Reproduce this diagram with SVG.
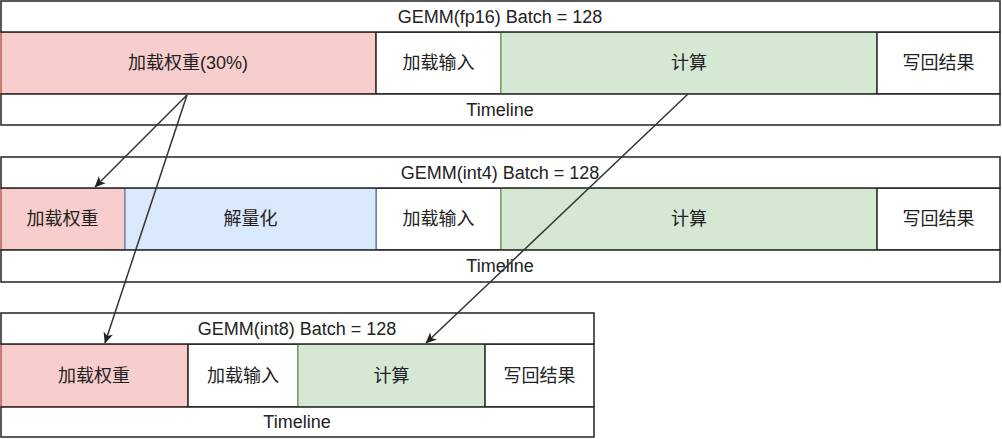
<svg xmlns="http://www.w3.org/2000/svg" width="1002" height="439" viewBox="0 0 1002 439">
<defs>
<style>
text{font-family:"Liberation Sans","Noto Sans CJK SC",sans-serif;font-size:18px;fill:#222;text-anchor:middle;dominant-baseline:central}
.frame{fill:#fff;stroke:#222;stroke-width:1.5}
.white{fill:#fff;stroke:#222;stroke-width:1.5}
.red{fill:#f8cecc;stroke:#b85450;stroke-width:1.5}
.green{fill:#d5e8d4;stroke:#82b366;stroke-width:1.5}
.blue{fill:#dae8fc;stroke:#6c8ebf;stroke-width:1.5}
.conn{fill:none;stroke:#333;stroke-width:1.5}
</style>
<marker id="arr" viewBox="0 0 10 10" refX="9.5" refY="5" markerWidth="11" markerHeight="11" markerUnits="userSpaceOnUse" orient="auto">
<path d="M0,0.5 L10,5 L0,9.5 L2.8,5 Z" fill="#222"/>
</marker>
</defs>
<rect width="1002" height="439" fill="#fff"/>

<g id="gemm-fp16">
<g id="fp16-load-weight"><rect class="red" x="1" y="32" width="375" height="62"/><text x="188" y="63">加载权重(30%)</text></g>
<g id="fp16-load-input"><rect class="white" x="376" y="32" width="125" height="62"/><text x="438.5" y="63">加载输入</text></g>
<g id="fp16-compute"><rect class="green" x="501" y="32" width="376" height="62"/><text x="689" y="63">计算</text></g>
<g id="fp16-write"><rect class="white" x="877" y="32" width="123" height="62"/><text x="938.5" y="63">写回结果</text></g>
<g id="fp16-title"><rect class="frame" x="1" y="1" width="999" height="31"/><text x="500" y="16.5">GEMM(fp16) Batch = 128</text></g>
<g id="fp16-timeline"><rect class="frame" x="1" y="94" width="999" height="31"/><text x="500" y="109.5">Timeline</text></g>
</g>

<g id="gemm-int4">
<g id="int4-load-weight"><rect class="red" x="1" y="188" width="124" height="62"/><text x="62.5" y="219">加载权重</text></g>
<g id="int4-load-input"><rect class="white" x="376" y="188" width="125" height="62"/><text x="438.5" y="219">加载输入</text></g>
<g id="int4-dequant"><rect class="blue" x="125" y="188" width="251" height="62"/><text x="250.5" y="219">解量化</text></g>
<g id="int4-compute"><rect class="green" x="501" y="188" width="376" height="62"/><text x="689" y="219">计算</text></g>
<g id="int4-write"><rect class="white" x="877" y="188" width="123" height="62"/><text x="938.5" y="219">写回结果</text></g>
<g id="int4-title"><rect class="frame" x="1" y="157" width="999" height="31"/><text x="500" y="172.5">GEMM(int4) Batch = 128</text></g>
<g id="int4-timeline"><rect class="frame" x="1" y="250" width="999" height="32"/><text x="500" y="266">Timeline</text></g>
</g>

<g id="gemm-int8">
<g id="int8-load-weight"><rect class="red" x="1" y="344" width="187" height="63"/><text x="94" y="375.5">加载权重</text></g>
<g id="int8-load-input"><rect class="white" x="188" y="344" width="110" height="63"/><text x="243" y="375.5">加载输入</text></g>
<g id="int8-compute"><rect class="green" x="298" y="344" width="187" height="63"/><text x="391.5" y="375.5">计算</text></g>
<g id="int8-write"><rect class="white" x="485" y="344" width="109" height="63"/><text x="539.5" y="375.5">写回结果</text></g>
<g id="int8-title"><rect class="frame" x="1" y="313" width="593" height="31"/><text x="297" y="328.5">GEMM(int8) Batch = 128</text></g>
<g id="int8-timeline"><rect class="frame" x="1" y="407" width="593" height="30"/><text x="297" y="422">Timeline</text></g>
</g>

<g id="connectors">
<line class="conn" x1="187" y1="95" x2="95" y2="187" marker-end="url(#arr)"/>
<line class="conn" x1="187" y1="95" x2="105" y2="343" marker-end="url(#arr)"/>
<line class="conn" x1="688" y1="94" x2="426" y2="343" marker-end="url(#arr)"/>
</g>
</svg>
